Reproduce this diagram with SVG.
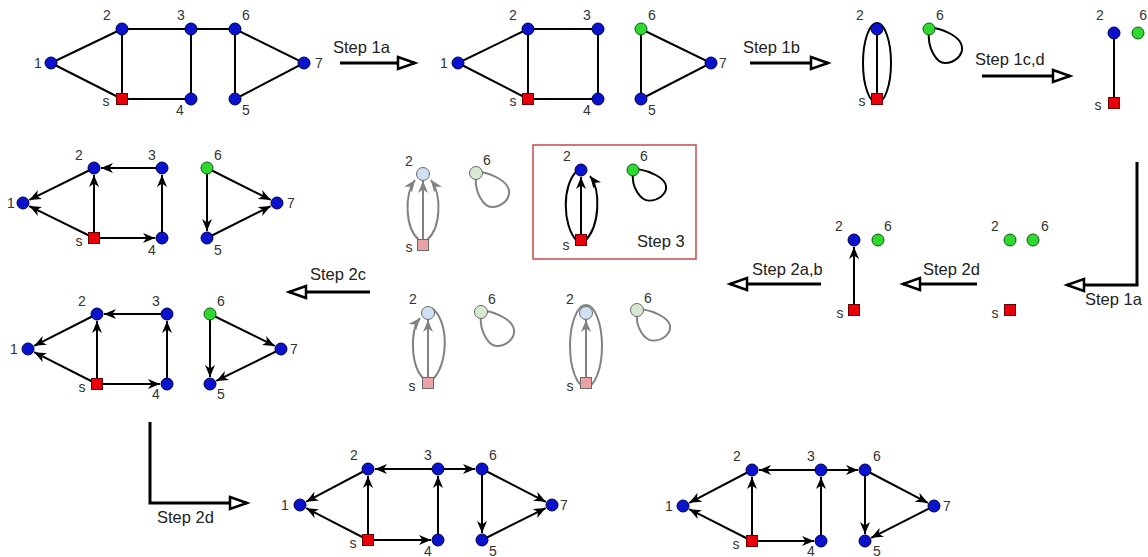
<svg xmlns="http://www.w3.org/2000/svg" width="1148" height="557" viewBox="0 0 1148 557">
<style>
.e{stroke:#000;stroke-width:2;fill:none}
.eg{stroke:#828282;stroke-width:2;fill:none}
.d{marker-end:url(#a)}
.dg{marker-end:url(#ag)}
.bg{stroke:#000;stroke-width:3;fill:none;marker-end:url(#big)}
.b{fill:#0a12cc;stroke:#00004a;stroke-width:1}
.gr{fill:#2ed82e;stroke:#0f5a0f;stroke-width:1}
.r{fill:#e8000a;stroke:#6a0000;stroke-width:1}
.fb{fill:#cfe0f2;stroke:#6a6a6a;stroke-width:1}
.fg{fill:#d9e8d2;stroke:#6a6a6a;stroke-width:1}
.fr{fill:#e9a3a6;stroke:#6a6a6a;stroke-width:1}
text{font-family:"Liberation Sans",Arial,sans-serif}
.l{font-size:14px;fill:#333;text-anchor:middle}
.st{font-size:16.5px;fill:#222}
</style>
<defs>
<marker id="a" viewBox="0 0 12 10" refX="12" refY="5" markerWidth="12" markerHeight="10" markerUnits="userSpaceOnUse" orient="auto"><path d="M0,0 L12,5 L0,10 L3.5,5 z" fill="#000"/></marker>
<marker id="ag" viewBox="0 0 12 10" refX="12" refY="5" markerWidth="12" markerHeight="10" markerUnits="userSpaceOnUse" orient="auto"><path d="M0,0 L12,5 L0,10 L3.5,5 z" fill="#828282"/></marker>
<marker id="big" viewBox="-3 -9 24 18" refX="17" refY="0" markerWidth="24" markerHeight="18" markerUnits="userSpaceOnUse" orient="auto" overflow="visible"><path d="M0,-6 L17,0 L0,6 z" fill="#fff" stroke="#000" stroke-width="2.5" stroke-linejoin="miter"/></marker>
<path id="loop" d="M0,2 C-2,20 8,34 16,34 C26,34 34,26 33,18 C32,8 16,1 5,-1"/>
</defs>

<g id="connectors">
<!-- Graph A -->
<path class="e" d="M51,63 L122,29 M51,63 L122,99 M122,29 L235,29 M122,29 L122,99 M122,99 L191,99 M191,29 L191,99 M235,29 L304,63 L235,99 Z"/>
<!-- Graph B -->
<path class="e" d="M458,63 L528,29 M458,63 L528,99 M528,29 L598,29 M528,29 L528,99 M528,99 L598,99 L598,29 M641,29 L711,63 L641,99 Z"/>
<!-- Graph C -->
<line class="e" x1="877" y1="29" x2="877" y2="99"/>
<ellipse class="e" cx="877" cy="63" rx="14" ry="40"/>
<use href="#loop" x="929" y="29" class="e"/>
<!-- Graph D -->
<line class="e" x1="1114" y1="33" x2="1114" y2="103"/>
<!-- Graph G -->
<line class="e d" x1="94" y1="168" x2="29.3" y2="199.9"/>
<line class="e d" x1="94" y1="238" x2="29.3" y2="206.1"/>
<line class="e d" x1="94" y1="238" x2="94" y2="175"/>
<line class="e d" x1="94" y1="238" x2="155" y2="238"/>
<line class="e d" x1="162" y1="238" x2="162" y2="175"/>
<line class="e d" x1="162" y1="168" x2="101" y2="168"/>
<line class="e d" x1="207" y1="168" x2="207" y2="231"/>
<line class="e d" x1="207" y1="168" x2="270.7" y2="199.9"/>
<line class="e d" x1="207" y1="238" x2="270.7" y2="206.1"/>
<!-- Graph H -->
<line class="e d" x1="97" y1="314" x2="34.2" y2="345.8"/>
<line class="e d" x1="97" y1="384" x2="34.2" y2="352.2"/>
<line class="e d" x1="97" y1="384" x2="97" y2="321"/>
<line class="e d" x1="97" y1="384" x2="160" y2="384"/>
<line class="e d" x1="167" y1="384" x2="167" y2="321"/>
<line class="e d" x1="167" y1="314" x2="104" y2="314"/>
<line class="e d" x1="210" y1="314" x2="210" y2="377"/>
<line class="e d" x1="210" y1="314" x2="274.7" y2="345.9"/>
<line class="e d" x1="281" y1="349" x2="216.3" y2="380.9"/>
<!-- Graph I (faded) -->
<line class="eg dg" x1="423" y1="245" x2="423" y2="181"/>
<path class="eg dg" d="M419,240 C405,228 404,195 415,180"/>
<path class="eg dg" d="M427,240 C441,228 442,195 431,180"/>
<use href="#loop" x="476" y="173" class="eg"/>
<!-- Graph R (Step 3) -->
<line class="e d" x1="581" y1="240" x2="581" y2="177"/>
<path class="e" d="M577,241 C562,226 562,184 577,171"/>
<path class="e d" d="M585,241 C600,226 601,190 590,176"/>
<use href="#loop" x="633" y="170" class="e" transform="translate(633 170) scale(1 0.9) translate(-633 -170)"/>
<!-- Graph J (faded) -->
<line class="eg dg" x1="428" y1="383" x2="428" y2="320"/>
<path class="eg dg" d="M424,379 C410,366 410,330 420,318"/>
<path class="eg" d="M432,380 C448,366 450,322 432,308"/>
<use href="#loop" x="481" y="312" class="eg"/>
<!-- Graph K (faded) -->
<line class="eg dg" x1="586" y1="383" x2="586" y2="320"/>
<ellipse class="eg" cx="586" cy="346" rx="16" ry="41"/>
<use href="#loop" x="637" y="310" class="eg" transform="translate(637 310) scale(1 0.9) translate(-637 -310)"/>
<!-- Graph F -->
<line class="e d" x1="854" y1="310" x2="854" y2="247"/>
<!-- Graph L -->
<line class="e d" x1="368" y1="469" x2="306.2" y2="501.7"/>
<line class="e d" x1="368" y1="540" x2="306.2" y2="508.2"/>
<line class="e d" x1="368" y1="540" x2="368" y2="476"/>
<line class="e d" x1="368" y1="540" x2="431" y2="540"/>
<line class="e d" x1="438" y1="540" x2="438" y2="476"/>
<line class="e d" x1="438" y1="469" x2="375" y2="469"/>
<line class="e d" x1="438" y1="469" x2="475" y2="469"/>
<line class="e d" x1="482" y1="469" x2="482" y2="533"/>
<line class="e d" x1="482" y1="469" x2="545.8" y2="501.8"/>
<line class="e d" x1="482" y1="540" x2="545.7" y2="508.1"/>
<!-- Graph M -->
<line class="e d" x1="752" y1="470" x2="689.2" y2="502.8"/>
<line class="e d" x1="752" y1="541" x2="689.2" y2="509.2"/>
<line class="e d" x1="752" y1="541" x2="752" y2="477"/>
<line class="e d" x1="752" y1="541" x2="814" y2="541"/>
<line class="e d" x1="821" y1="541" x2="821" y2="477"/>
<line class="e d" x1="821" y1="470" x2="759" y2="470"/>
<line class="e d" x1="821" y1="470" x2="858" y2="470"/>
<line class="e d" x1="865" y1="470" x2="865" y2="534"/>
<line class="e d" x1="865" y1="470" x2="927.8" y2="502.8"/>
<line class="e d" x1="934" y1="506" x2="871.2" y2="537.8"/>
</g>

<g id="steps">
<line class="bg" x1="340" y1="63" x2="415" y2="63"/>
<text class="st" x="333" y="53">Step 1a</text>
<line class="bg" x1="750" y1="63" x2="828" y2="63"/>
<text class="st" x="743" y="53">Step 1b</text>
<line class="bg" x1="982" y1="76" x2="1070" y2="76"/>
<text class="st" x="975" y="65">Step 1c,d</text>
<path class="bg" d="M1137,162 V285 H1067"/>
<text class="st" x="1085" y="305">Step 1a</text>
<line class="bg" x1="977" y1="284" x2="903" y2="284"/>
<text class="st" x="923" y="275">Step 2d</text>
<line class="bg" x1="821" y1="284" x2="730" y2="284"/>
<text class="st" x="752" y="275">Step 2a,b</text>
<line class="bg" x1="370" y1="292" x2="289" y2="292"/>
<text class="st" x="310" y="280">Step 2c</text>
<path class="bg" d="M150,422 V503 H247"/>
<text class="st" x="157" y="523">Step 2d</text>
</g>

<g id="step3box">
<rect x="533" y="145" width="163" height="114" fill="none" stroke="#c64a4a" stroke-width="1.5"/>
<text class="st" x="637" y="247">Step 3</text>
</g>

<!-- Graph A nodes -->
<g id="a1"><circle class="b" cx="51" cy="63" r="6"/><text class="l" x="38" y="68">1</text></g>
<g id="a2"><circle class="b" cx="122" cy="29" r="6"/><text class="l" x="107" y="20">2</text></g>
<g id="a3"><circle class="b" cx="191" cy="29" r="6"/><text class="l" x="181" y="20">3</text></g>
<g id="a6"><circle class="b" cx="235" cy="29" r="6"/><text class="l" x="246" y="20">6</text></g>
<g id="a7"><circle class="b" cx="304" cy="63" r="6"/><text class="l" x="319" y="68">7</text></g>
<g id="as"><rect class="r" x="116.5" y="93.5" width="11" height="11"/><text class="l" x="106" y="106">s</text></g>
<g id="a4"><circle class="b" cx="191" cy="99" r="6"/><text class="l" x="180" y="115">4</text></g>
<g id="a5"><circle class="b" cx="235" cy="99" r="6"/><text class="l" x="246" y="115">5</text></g>
<!-- Graph B nodes -->
<g id="b1"><circle class="b" cx="458" cy="63" r="6"/><text class="l" x="444" y="68">1</text></g>
<g id="b2"><circle class="b" cx="528" cy="29" r="6"/><text class="l" x="513" y="20">2</text></g>
<g id="b3"><circle class="b" cx="598" cy="29" r="6"/><text class="l" x="587" y="20">3</text></g>
<g id="b6"><circle class="gr" cx="641" cy="29" r="6"/><text class="l" x="652" y="20">6</text></g>
<g id="b7"><circle class="b" cx="711" cy="63" r="6"/><text class="l" x="723" y="68">7</text></g>
<g id="bs"><rect class="r" x="522.5" y="93.5" width="11" height="11"/><text class="l" x="513" y="106">s</text></g>
<g id="b4"><circle class="b" cx="598" cy="99" r="6"/><text class="l" x="587" y="115">4</text></g>
<g id="b5"><circle class="b" cx="641" cy="99" r="6"/><text class="l" x="652" y="115">5</text></g>
<!-- Graph C nodes -->
<g id="c2"><circle class="b" cx="877" cy="29" r="6"/><text class="l" x="860" y="20">2</text></g>
<g id="c6"><circle class="gr" cx="929" cy="29" r="6"/><text class="l" x="940" y="20">6</text></g>
<g id="cs"><rect class="r" x="871.5" y="93.5" width="11" height="11"/><text class="l" x="862" y="106">s</text></g>
<!-- Graph D nodes -->
<g id="d2"><circle class="b" cx="1114" cy="33" r="6"/><text class="l" x="1100" y="20">2</text></g>
<g id="d6"><circle class="gr" cx="1138" cy="33" r="6"/><text class="l" x="1147" y="20" style="text-anchor:end">6</text></g>
<g id="ds"><rect class="r" x="1108.5" y="97.5" width="11" height="11"/><text class="l" x="1098" y="110">s</text></g>
<!-- Graph G nodes -->
<g id="g1"><circle class="b" cx="23" cy="203" r="6"/><text class="l" x="11" y="208">1</text></g>
<g id="g2"><circle class="b" cx="94" cy="168" r="6"/><text class="l" x="79" y="160">2</text></g>
<g id="g3"><circle class="b" cx="162" cy="168" r="6"/><text class="l" x="152" y="160">3</text></g>
<g id="g6"><circle class="gr" cx="207" cy="168" r="6"/><text class="l" x="218" y="160">6</text></g>
<g id="g7"><circle class="b" cx="277" cy="203" r="6"/><text class="l" x="291" y="208">7</text></g>
<g id="gs"><rect class="r" x="88.5" y="232.5" width="11" height="11"/><text class="l" x="79" y="246">s</text></g>
<g id="g4"><circle class="b" cx="162" cy="238" r="6"/><text class="l" x="152" y="255">4</text></g>
<g id="g5"><circle class="b" cx="207" cy="238" r="6"/><text class="l" x="218" y="255">5</text></g>
<!-- Graph H nodes -->
<g id="h1"><circle class="b" cx="28" cy="349" r="6"/><text class="l" x="14" y="354">1</text></g>
<g id="h2"><circle class="b" cx="97" cy="314" r="6"/><text class="l" x="82" y="306">2</text></g>
<g id="h3"><circle class="b" cx="167" cy="314" r="6"/><text class="l" x="156" y="306">3</text></g>
<g id="h6"><circle class="gr" cx="210" cy="314" r="6"/><text class="l" x="221" y="306">6</text></g>
<g id="h7"><circle class="b" cx="281" cy="349" r="6"/><text class="l" x="294" y="354">7</text></g>
<g id="hs"><rect class="r" x="91.5" y="378.5" width="11" height="11"/><text class="l" x="82" y="392">s</text></g>
<g id="h4"><circle class="b" cx="167" cy="384" r="6"/><text class="l" x="156" y="399">4</text></g>
<g id="h5"><circle class="b" cx="210" cy="384" r="6"/><text class="l" x="221" y="399">5</text></g>
<!-- Graph I nodes (faded) -->
<g id="i2"><circle class="fb" cx="423" cy="174" r="6.5"/><text class="l" x="409" y="166">2</text></g>
<g id="i6"><circle class="fg" cx="476" cy="173" r="6.5"/><text class="l" x="487" y="165">6</text></g>
<g id="is"><rect class="fr" x="417.5" y="239.5" width="11" height="11"/><text class="l" x="409" y="252">s</text></g>
<!-- Graph R nodes (Step 3) -->
<g id="r2"><circle class="b" cx="581" cy="170" r="6"/><text class="l" x="567" y="161">2</text></g>
<g id="r6"><circle class="gr" cx="633" cy="170" r="6"/><text class="l" x="644" y="161">6</text></g>
<g id="rs"><rect class="r" x="575.5" y="234.5" width="11" height="11"/><text class="l" x="566" y="250">s</text></g>
<!-- Graph J nodes (faded) -->
<g id="j2"><circle class="fb" cx="428" cy="313" r="6.5"/><text class="l" x="413" y="304">2</text></g>
<g id="j6"><circle class="fg" cx="481" cy="312" r="6.5"/><text class="l" x="492" y="304">6</text></g>
<g id="js"><rect class="fr" x="422.5" y="377.5" width="11" height="11"/><text class="l" x="412" y="391">s</text></g>
<!-- Graph K nodes (faded) -->
<g id="k2"><circle class="fb" cx="586" cy="313" r="6.5"/><text class="l" x="570" y="304">2</text></g>
<g id="k6"><circle class="fg" cx="637" cy="310" r="6.5"/><text class="l" x="648" y="303">6</text></g>
<g id="ks"><rect class="fr" x="580.5" y="377.5" width="11" height="11"/><text class="l" x="570" y="391">s</text></g>
<!-- Graph F nodes -->
<g id="f2"><circle class="b" cx="854" cy="240" r="6"/><text class="l" x="839" y="231">2</text></g>
<g id="f6"><circle class="gr" cx="878" cy="240" r="6"/><text class="l" x="888" y="231">6</text></g>
<g id="fs"><rect class="r" x="848.5" y="304.5" width="11" height="11"/><text class="l" x="840" y="318">s</text></g>
<!-- Graph E nodes -->
<g id="e2"><circle class="gr" cx="1010" cy="240" r="6"/><text class="l" x="995" y="231">2</text></g>
<g id="e6"><circle class="gr" cx="1033" cy="240" r="6"/><text class="l" x="1045" y="231">6</text></g>
<g id="es"><rect class="r" x="1004.5" y="304.5" width="11" height="11"/><text class="l" x="995" y="318">s</text></g>
<!-- Graph L nodes -->
<g id="l1"><circle class="b" cx="300" cy="505" r="6"/><text class="l" x="285" y="510">1</text></g>
<g id="l2"><circle class="b" cx="368" cy="469" r="6"/><text class="l" x="354" y="460">2</text></g>
<g id="l3"><circle class="b" cx="438" cy="469" r="6"/><text class="l" x="428" y="460">3</text></g>
<g id="l6"><circle class="b" cx="482" cy="469" r="6"/><text class="l" x="493" y="460">6</text></g>
<g id="l7"><circle class="b" cx="552" cy="505" r="6"/><text class="l" x="564" y="510">7</text></g>
<g id="ls"><rect class="r" x="362.5" y="534.5" width="11" height="11"/><text class="l" x="353" y="548">s</text></g>
<g id="l4"><circle class="b" cx="438" cy="540" r="6"/><text class="l" x="428" y="556">4</text></g>
<g id="l5"><circle class="b" cx="482" cy="540" r="6"/><text class="l" x="493" y="556">5</text></g>
<!-- Graph M nodes -->
<g id="m1"><circle class="b" cx="683" cy="506" r="6"/><text class="l" x="669" y="511">1</text></g>
<g id="m2"><circle class="b" cx="752" cy="470" r="6"/><text class="l" x="737" y="461">2</text></g>
<g id="m3"><circle class="b" cx="821" cy="470" r="6"/><text class="l" x="811" y="461">3</text></g>
<g id="m6"><circle class="b" cx="865" cy="470" r="6"/><text class="l" x="877" y="461">6</text></g>
<g id="m7"><circle class="b" cx="934" cy="506" r="6"/><text class="l" x="947" y="511">7</text></g>
<g id="ms"><rect class="r" x="746.5" y="535.5" width="11" height="11"/><text class="l" x="736" y="549">s</text></g>
<g id="m4"><circle class="b" cx="821" cy="541" r="6"/><text class="l" x="811" y="556">4</text></g>
<g id="m5"><circle class="b" cx="865" cy="541" r="6"/><text class="l" x="877" y="556">5</text></g>
</svg>
